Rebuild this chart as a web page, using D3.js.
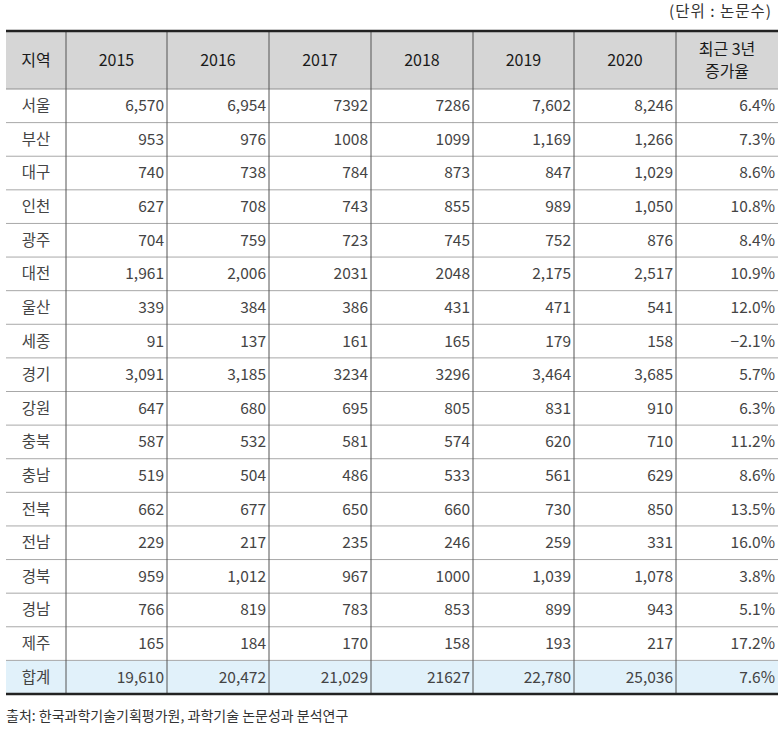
<!DOCTYPE html>
<html><head><meta charset="utf-8">
<script src="https://cdn.jsdelivr.net/npm/d3@7"></script>
<style>
body{margin:0;background:#fff;}
svg text{font-family:"Noto Sans CJK KR","Noto Sans",sans-serif;}
</style></head>
<body><svg id="c" width="783" height="736"></svg>
<script>
const columns = ["지역","2015","2016","2017","2018","2019","2020","최근 3년\n증가율"];
const regions = ["서울","부산","대구","인천","광주","대전","울산","세종","경기","강원","충북","충남","전북","전남","경북","경남","제주","합계"];
const v2015 = ["6,570","953","740","627","704","1,961","339","91","3,091","647","587","519","662","229","959","766","165","19,610"];
const v2016 = ["6,954","976","738","708","759","2,006","384","137","3,185","680","532","504","677","217","1,012","819","184","20,472"];
const v2017 = ["7392","1008","784","743","723","2031","386","161","3234","695","581","486","650","235","967","783","170","21,029"];
const v2018 = ["7286","1099","873","855","745","2048","431","165","3296","805","574","533","660","246","1000","853","158","21627"];
const v2019 = ["7,602","1,169","847","989","752","2,175","471","179","3,464","831","620","561","730","259","1,039","899","193","22,780"];
const v2020 = ["8,246","1,266","1,029","1,050","876","2,517","541","158","3,685","910","710","629","850","331","1,078","943","217","25,036"];
const growth = ["6.4%","7.3%","8.6%","10.8%","8.4%","10.9%","12.0%","-2.1%","5.7%","6.3%","11.2%","8.6%","13.5%","16.0%","3.8%","5.1%","17.2%","7.6%"];
const unitText = "(단위 : 논문수)";
const sourceText = "출처: 한국과학기술기획평가원, 과학기술 논문성과 분석연구";

(function(){
const svg = d3.select("#c");
const L = 6, R = 778, T = 31, headH = 58, B = 694;
const colEdges = [L, 66, 167, 269, 371, 473, 574, 676, R];
const y = d3.scaleBand().domain(d3.range(regions.length)).range([T+headH, B]).padding(0);
const cols = [regions, v2015, v2016, v2017, v2018, v2019, v2020, growth];

svg.append("rect").attr("x", L).attr("y", T).attr("width", R-L).attr("height", headH).attr("fill", "#d6d6d6");
const last = regions.length-1;
svg.append("rect").attr("x", L).attr("y", y(last)).attr("width", R-L).attr("height", y.bandwidth()).attr("fill", "#e1f1fa");

regions.forEach((r,i)=>{
  if(i>0) svg.append("line").attr("x1",L).attr("x2",R).attr("y1",y(i)).attr("y2",y(i)).attr("stroke","#a8a8a8").attr("stroke-width",1);
});
svg.append("line").attr("x1",L).attr("x2",R).attr("y1",T+headH).attr("y2",T+headH).attr("stroke","#909090").attr("stroke-width",1);
colEdges.slice(1,8).forEach(cx=>{
  svg.append("line").attr("x1",cx).attr("x2",cx).attr("y1",T).attr("y2",B).attr("stroke","#555").attr("stroke-width",1);
});
svg.append("line").attr("x1",L).attr("x2",R).attr("y1",T).attr("y2",T).attr("stroke","#222").attr("stroke-width",2.5);
svg.append("line").attr("x1",L).attr("x2",R).attr("y1",B).attr("y2",B).attr("stroke","#222").attr("stroke-width",2.5);

columns.forEach((c,j)=>{
  const cx = (colEdges[j]+colEdges[j+1])/2;
  const lines = c.split("\n");
  const t = svg.append("text").attr("x",cx).attr("text-anchor","middle").attr("fill","#1a1a1a")
    .attr("font-size",16).attr("font-weight",400);
  lines.forEach((l,k)=>{
    t.append("tspan").attr("x",cx).attr("y", T+headH/2 + (k-(lines.length-1)/2)*22).attr("dy","0.35em").text(l);
  });
});

cols.forEach((arr,j)=>{
  arr.forEach((v,i)=>{
    const isFirst = j===0;
    svg.append("text")
      .attr("x", isFirst ? (colEdges[0]+colEdges[1])/2 : colEdges[j+1]-3)
      .attr("y", y(i)+y.bandwidth()/2)
      .attr("dy","0.35em")
      .attr("text-anchor", isFirst ? "middle" : "end")
      .attr("fill","#444").attr("font-size",15.5)
      .text(v.replace(/^-/,"−"));
  });
});

svg.append("text").attr("x",772).attr("y",12).attr("dy","0.35em").attr("text-anchor","end").attr("fill","#333")
  .attr("font-size",15.5).attr("letter-spacing",1).attr("xml:space","preserve").text(unitText);
svg.append("text").attr("x",6).attr("y",716).attr("dy","0.35em").attr("fill","#333").attr("font-size",14).text(sourceText);
})();
</script></body></html>
